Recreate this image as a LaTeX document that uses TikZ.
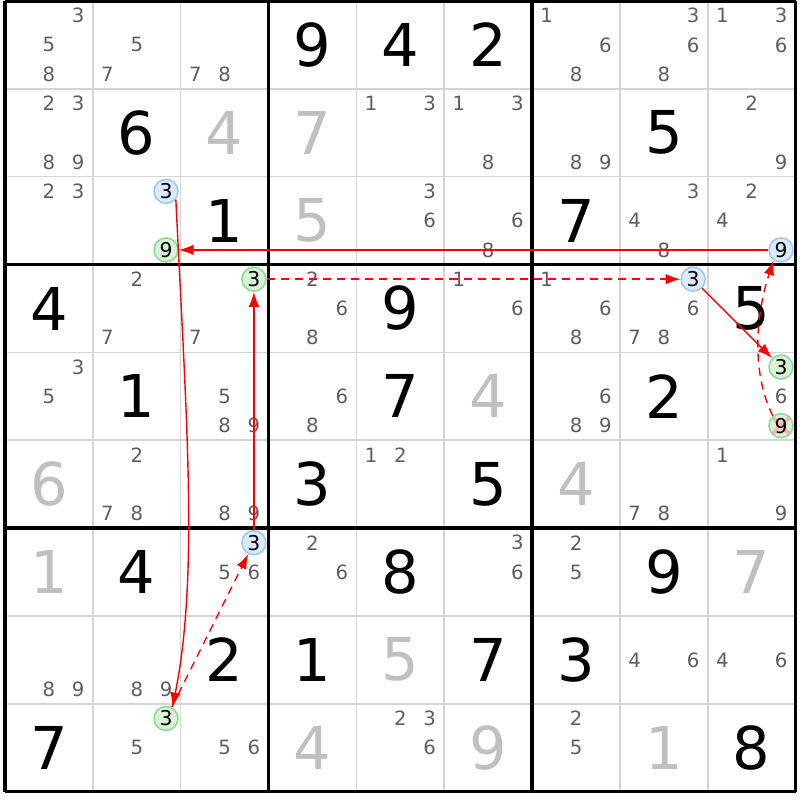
\documentclass[tikz,border=0pt]{standalone}
\usepackage{fontspec}
\setmainfont{DejaVu Sans}
\usetikzlibrary{arrows.meta}

\definecolor{candgray}{HTML}{5E5E5E}
\definecolor{placedgray}{HTML}{C0C0C0}
\definecolor{cellgray}{HTML}{D4D4D4}
\definecolor{bluefill}{HTML}{DCEAFB}
\definecolor{bluedraw}{HTML}{9CC9F4}
\definecolor{greenfill}{HTML}{D9F2D9}
\definecolor{greendraw}{HTML}{8FDB8F}

% candidates of one cell: col, row, digits
\newcommand{\cands}[3]{%
  \foreach \d in {#3} {%
    \pgfmathsetmacro{\cx}{#1-5/6+mod(\d-1,3)/3}%
    \pgfmathsetmacro{\cy}{#2-5/6+floor((\d-1)/3)/3}%
    \node[cand] (r#2c#1d\d) at (\cx,\cy) {\d};
  }}
\newcommand{\given}[3]{\node[given] (r#2c#1) at (#1-0.5,#2-0.5) {#3};}
\newcommand{\placed}[3]{\node[placed] (r#2c#1) at (#1-0.5,#2-0.5) {#3};}
% circled candidate: style, col, row, digit
\newcommand{\pick}[4]{%
  \pgfmathsetmacro{\cx}{#2-5/6+mod(#4-1,3)/3}%
  \pgfmathsetmacro{\cy}{#3-5/6+floor((#4-1)/3)/3}%
  \node[#1] (r#3c#2d#4) at (\cx,\cy) {#4};}

\begin{document}
\begin{tikzpicture}[x=0.8785cm,y=-0.8785cm,
  cand/.style={text=candgray,font=\fontsize{5.6}{6}\selectfont,inner sep=0pt},
  given/.style={font=\fontsize{16.8}{18}\selectfont,inner sep=0pt},
  placed/.style={given,text=placedgray},
  pick/.style={circle,minimum size=0.24cm,inner sep=0pt,line width=0.45pt,
    font=\fontsize{5.8}{6}\selectfont},
  pick blue/.style={pick,draw=bluedraw,fill=bluefill},
  pick green/.style={pick,draw=greendraw,fill=greenfill},
  ruled out/.style={pick green,path picture={
    \draw[red!30,line width=1.1pt]
      (path picture bounding box.north west) -- (path picture bounding box.south east)
      (path picture bounding box.south west) -- (path picture bounding box.north east);}},
  cell line/.style={cellgray,line width=0.45pt},
  box line/.style={black,line width=1pt},
  strong link/.style={red,line width=0.4pt,-{Latex[length=4.2pt,width=3pt]}},
  weak link/.style={strong link,dash pattern=on 2.3pt off 1.7pt}]

  \useasboundingbox[fill=white] (-0.0569,-0.0114) rectangle (9.0495,9.0950);

  % grid
  \foreach \i in {1,2,4,5,7,8} {
    \draw[cell line] (\i,0) -- (\i,9);
    \draw[cell line] (0,\i) -- (9,\i);
  }
  \foreach \i in {0,3,6,9} {
    \draw[box line] (\i,0) -- (\i,9);
    \draw[box line] (0,\i) -- (9,\i);
  }

  % row 1
  \cands{1}{1}{3,5,8}
  \cands{2}{1}{5,7}
  \cands{3}{1}{7,8}
  \given{4}{1}{9}
  \given{5}{1}{4}
  \given{6}{1}{2}
  \cands{7}{1}{1,6,8}
  \cands{8}{1}{3,6,8}
  \cands{9}{1}{1,3,6}
  % row 2
  \cands{1}{2}{2,3,8,9}
  \given{2}{2}{6}
  \placed{3}{2}{4}
  \placed{4}{2}{7}
  \cands{5}{2}{1,3}
  \cands{6}{2}{1,3,8}
  \cands{7}{2}{8,9}
  \given{8}{2}{5}
  \cands{9}{2}{2,9}
  % row 3
  \cands{1}{3}{2,3}
  \pick{pick blue}{2}{3}{3}
  \pick{pick green}{2}{3}{9}
  \given{3}{3}{1}
  \placed{4}{3}{5}
  \cands{5}{3}{3,6}
  \cands{6}{3}{6,8}
  \given{7}{3}{7}
  \cands{8}{3}{3,4,8}
  \cands{9}{3}{2,4}
  \pick{pick blue}{9}{3}{9}
  % row 4
  \given{1}{4}{4}
  \cands{2}{4}{2,7}
  \cands{3}{4}{7}
  \pick{pick green}{3}{4}{3}
  \cands{4}{4}{2,6,8}
  \given{5}{4}{9}
  \cands{6}{4}{1,6}
  \cands{7}{4}{1,6,8}
  \cands{8}{4}{6,7,8}
  \pick{pick blue}{8}{4}{3}
  \given{9}{4}{5}
  % row 5
  \cands{1}{5}{3,5}
  \given{2}{5}{1}
  \cands{3}{5}{5,8,9}
  \cands{4}{5}{6,8}
  \given{5}{5}{7}
  \placed{6}{5}{4}
  \cands{7}{5}{6,8,9}
  \given{8}{5}{2}
  \cands{9}{5}{6}
  \pick{pick green}{9}{5}{3}
  \pick{ruled out}{9}{5}{9}
  % row 6
  \placed{1}{6}{6}
  \cands{2}{6}{2,7,8}
  \cands{3}{6}{8,9}
  \given{4}{6}{3}
  \cands{5}{6}{1,2}
  \given{6}{6}{5}
  \placed{7}{6}{4}
  \cands{8}{6}{7,8}
  \cands{9}{6}{1,9}
  % row 7
  \placed{1}{7}{1}
  \given{2}{7}{4}
  \cands{3}{7}{5,6}
  \pick{pick blue}{3}{7}{3}
  \cands{4}{7}{2,6}
  \given{5}{7}{8}
  \cands{6}{7}{3,6}
  \cands{7}{7}{2,5}
  \given{8}{7}{9}
  \placed{9}{7}{7}
  % row 8
  \cands{1}{8}{8,9}
  \cands{2}{8}{8,9}
  \given{3}{8}{2}
  \given{4}{8}{1}
  \placed{5}{8}{5}
  \given{6}{8}{7}
  \given{7}{8}{3}
  \cands{8}{8}{4,6}
  \cands{9}{8}{4,6}
  % row 9
  \given{1}{9}{7}
  \cands{2}{9}{5}
  \pick{pick green}{2}{9}{3}
  \cands{3}{9}{5,6}
  \placed{4}{9}{4}
  \cands{5}{9}{2,3,6}
  \placed{6}{9}{9}
  \cands{7}{9}{2,5}
  \placed{8}{9}{1}
  \given{9}{9}{8}

  % chain
  \draw[strong link] (r3c2d3.-40) .. controls +(0.12,2.5) and +(0.3,-1.5) .. (r9c2d3.60);
  \draw[strong link] (r3c9d9) -- (r3c2d9);
  \draw[weak link] (r4c3d3) -- (r4c8d3);
  \draw[strong link] (r4c8d3) -- (r5c9d3);
  \draw[weak link] (r5c9d9.130) .. controls +(-0.25,-0.5) and +(-0.2,0.6) .. (r3c9d9.-125);
  \draw[strong link] (r7c3d3) -- (r4c3d3);
  \draw[weak link] (r9c2d3) -- (r7c3d3);
\end{tikzpicture}
\end{document}
